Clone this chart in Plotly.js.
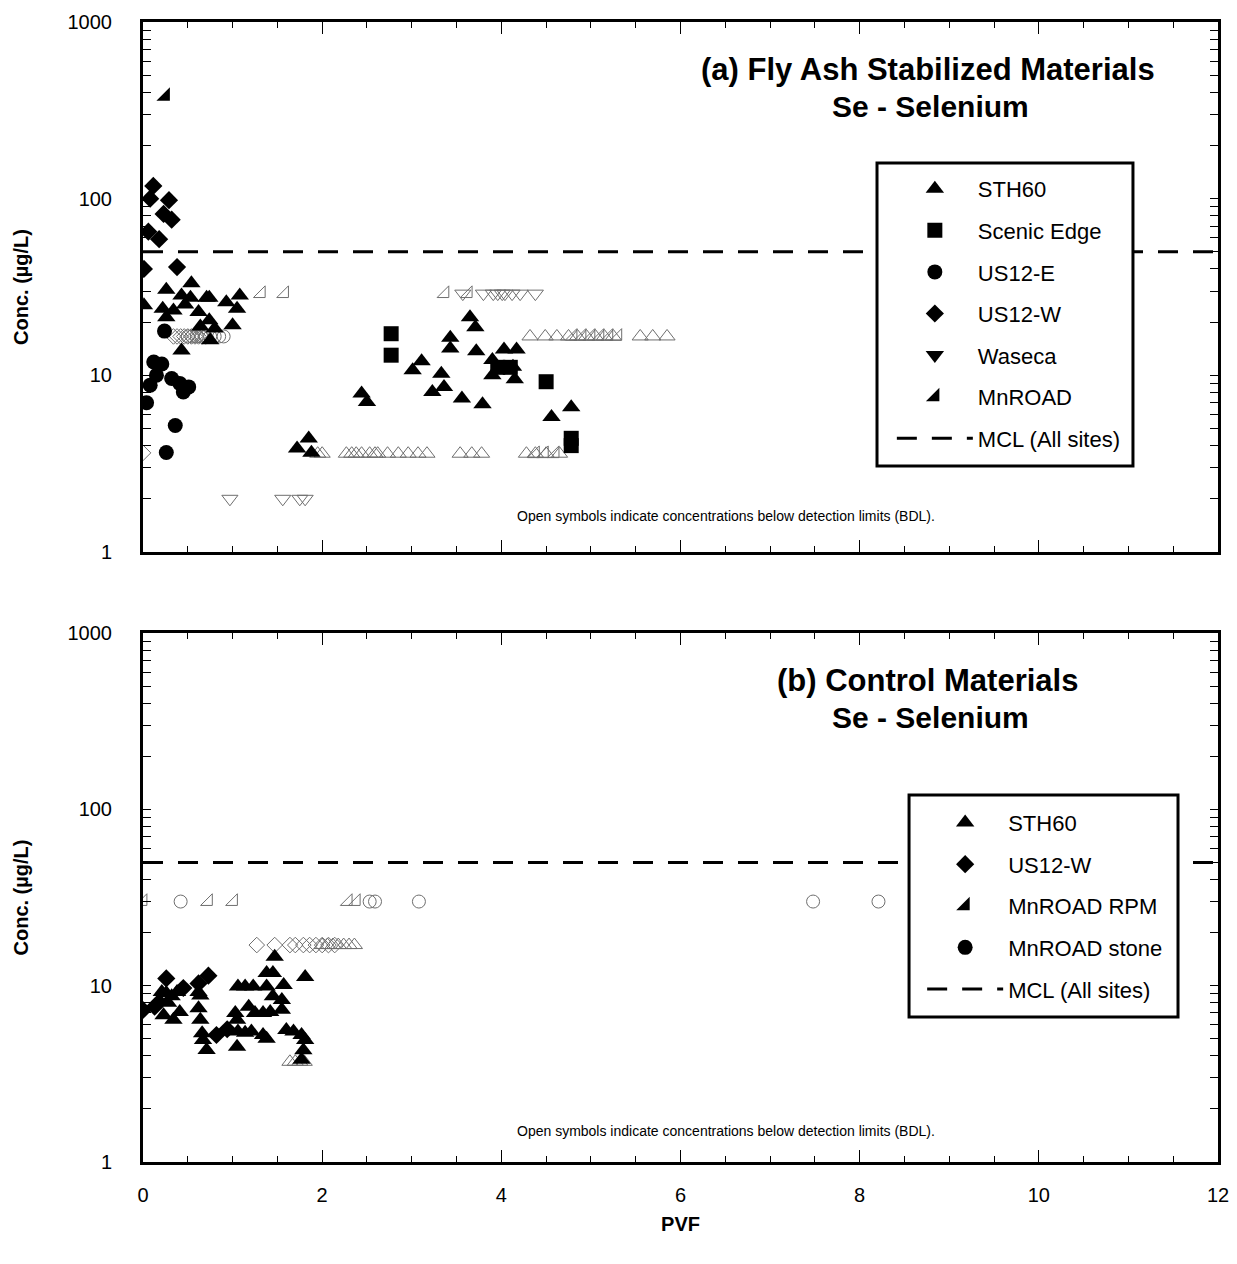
<!DOCTYPE html>
<html><head><meta charset="utf-8">
<script src="https://cdn.plot.ly/plotly-3.0.1.min.js"></script>
<style>body{margin:0;background:#fff}#g{width:1237px;height:1264px}</style>
</head><body><div id="g"></div>
<script>
// ---------- Panel (a) Fly Ash Stabilized Materials ----------
var a_sth60_x = [0.01,0.26,0.54,0.43,0.53,0.22,0.34,0.26,0.47,0.71,0.74,0.62,0.93,1.08,1.05,0.74,0.64,0.80,1.00,0.75,0.43,
  1.72,1.85,1.88,2.44,2.50,3.01,3.11,3.23,3.33,3.36,3.43,3.43,3.65,3.71,3.72,3.56,3.79,3.90,4.03,4.17,3.90,4.13,4.15,4.56,4.78];
var a_sth60_y = [24.9,30.5,33.2,28.3,27.5,23.8,23.3,21.3,25.2,27.5,27.5,22.8,25.9,28.3,23.8,20.5,18.9,18.4,19.2,15.8,13.8,
  3.85,4.39,3.64,7.9,7.07,10.7,12.0,8.05,10.2,8.6,16.3,14.2,21.3,18.7,13.7,7.4,6.86,12.2,14.0,14.0,10.0,11.2,9.5,5.8,6.6];
var a_sth60_bdl_x = [1.95,2.00,2.27,2.33,2.38,2.44,2.53,2.59,2.62,2.73,2.85,2.96,3.07,3.17,3.54,3.67,3.78,4.28,4.38,4.50,4.65,
  4.32,4.49,4.62,4.75,4.85,4.95,5.05,5.15,5.25,5.55,5.69,5.85];
var a_sth60_bdl_y = [3.6,3.6,3.6,3.6,3.6,3.6,3.6,3.6,3.6,3.6,3.6,3.6,3.6,3.6,3.6,3.6,3.6,3.6,3.6,3.6,3.6,
  16.6,16.6,16.6,16.6,16.6,16.6,16.6,16.6,16.6,16.6,16.6,16.6];
var a_scenic_x = [2.77,2.77,3.96,4.10,4.50,4.78,4.78];
var a_scenic_y = [17.2,13.0,11.1,11.1,9.2,4.4,4.0];
var a_us12e_x = [0.24,0.12,0.21,0.15,0.08,0.32,0.41,0.51,0.45,0.04,0.36,0.26];
var a_us12e_y = [17.8,11.9,11.6,10.0,8.8,9.6,9.0,8.6,8.05,7.0,5.2,3.66];
var a_us12e_bdl_x = [0.50,0.55,0.60,0.65,0.70,0.75,0.80,0.85,0.90];
var a_us12e_bdl_y = [16.6,16.6,16.6,16.6,16.6,16.6,16.6,16.6,16.6];
var a_us12w_x = [0.115,0.08,0.29,0.23,0.32,0.06,0.18,0.01,0.38];
var a_us12w_y = [118,100,98,82,76,65,59,40,41];
var a_us12w_bdl_x = [0.34,0.38,0.42,0.46,0.50,0.54,0.58,0.62,0.66,0.70,0.0];
var a_us12w_bdl_y = [16.6,16.6,16.6,16.6,16.6,16.6,16.6,16.6,16.6,16.6,3.64];
var a_waseca_x = [null];
var a_waseca_y = [null];
var a_waseca_bdl_x = [0.97,1.56,1.75,1.81,3.57,3.80,3.91,3.96,4.01,4.04,4.12,4.21,4.38];
var a_waseca_bdl_y = [2.0,2.0,2.0,2.0,29,29,29,29,29,29,29,29,29];
var a_mnroad_x = [0.25];
var a_mnroad_y = [380];
var a_mnroad_bdl_x = [1.32,1.58,3.37,3.63,4.38,4.48,4.60,4.80,4.90,5.00,5.10,5.20,5.30];
var a_mnroad_bdl_y = [29,29,29,29,3.6,3.6,3.6,16.6,16.6,16.6,16.6,16.6,16.6];

// ---------- Panel (b) Control Materials ----------
var b_sth60_x = [0.23,0.34,0.41,0.26,0.32,0.38,0.21,0.62,0.64,0.62,0.64,0.66,0.67,0.71,1.03,1.06,1.14,1.23,1.05,1.06,1.05,1.14,1.21,
  1.18,1.25,1.34,1.42,1.34,1.38,1.38,1.45,1.47,1.38,1.45,1.57,1.55,1.55,1.60,1.68,1.77,1.81,1.79,1.81,1.77,0.28,0.18];
var b_sth60_y = [6.8,6.4,7.1,9.1,8.7,9.2,9.2,9.2,8.8,7.45,6.4,5.37,4.92,4.32,7.0,9.9,9.9,9.9,6.4,5.5,4.5,5.4,5.5,
  7.6,7.0,7.0,7.1,5.25,5.0,11.8,11.8,14.6,9.9,8.7,10.1,8.3,7.3,5.6,5.5,5.25,4.92,4.3,11.2,3.8,8.0,8.3];
var b_sth60_bdl_x = [1.64,1.70,1.75,1.80,2.00,2.06,2.12,2.18,2.24,2.30,2.36];
var b_sth60_bdl_y = [3.7,3.7,3.7,3.7,17,17,17,17,17,17,17];
var b_us12w_x = [0.0,0.13,0.26,0.73,0.45,0.62,0.82,0.94];
var b_us12w_y = [7.28,7.6,11.0,11.4,9.7,10.3,5.25,5.66];
var b_us12w_bdl_x = [1.27,1.47,1.64,1.70,1.79,1.86,1.93,2.00,2.07,2.14];
var b_us12w_bdl_y = [17,17,17,17,17,17,17,17,17,17];
var b_rpm_x = [null];
var b_rpm_y = [null];
var b_rpm_bdl_x = [0.0,0.73,1.01,2.29,2.38];
var b_rpm_bdl_y = [30,30,30,30,30];
var b_stone_x = [null];
var b_stone_y = [null];
var b_stone_bdl_x = [0.42,2.53,2.59,3.08,7.48,8.21];
var b_stone_bdl_y = [30,30,30,30,30,30];

var mcl = 50;
var pvfRange = [0, 12];

var FONT = 'Arial, "Liberation Sans", sans-serif';
var GRAY = '#6e6e6e';

function filled(x, y, sym, size, name, xa, ya, leg) {
  return {x: x, y: y, type: 'scatter', mode: 'markers', name: name, xaxis: xa, yaxis: ya,
    legend: leg, legendgroup: leg + name, showlegend: true,
    marker: {symbol: sym, size: size, color: 'black', line: {width: 0}}};
}
function open(x, y, sym, size, xa, ya) {
  return {x: x, y: y, type: 'scatter', mode: 'markers', xaxis: xa, yaxis: ya, showlegend: false,
    marker: {symbol: sym + '-open', size: size, color: GRAY, line: {width: 1, color: GRAY}}};
}
function mclTrace(xa, ya, leg) {
  return {x: pvfRange, y: [mcl, mcl], type: 'scatter', mode: 'lines', name: 'MCL (All sites)',
    xaxis: xa, yaxis: ya, legend: leg, legendgroup: leg + 'mcl', showlegend: true,
    line: {color: 'black', width: 3, dash: '20px,15px'}};
}

var data = [
  open(a_sth60_bdl_x, a_sth60_bdl_y, 'triangle-up', 14, 'x', 'y'),
  open(a_us12e_bdl_x, a_us12e_bdl_y, 'circle', 13, 'x', 'y'),
  open(a_us12w_bdl_x, a_us12w_bdl_y, 'diamond', 12, 'x', 'y'),
  open(a_waseca_bdl_x, a_waseca_bdl_y, 'triangle-down', 14, 'x', 'y'),
  open(a_mnroad_bdl_x, a_mnroad_bdl_y, 'triangle-se', 13, 'x', 'y'),
  filled(a_sth60_x, a_sth60_y, 'triangle-up', 16, 'STH60', 'x', 'y', 'legend'),
  filled(a_scenic_x, a_scenic_y, 'square', 15, 'Scenic Edge', 'x', 'y', 'legend'),
  filled(a_us12e_x, a_us12e_y, 'circle', 15, 'US12-E', 'x', 'y', 'legend'),
  filled(a_us12w_x, a_us12w_y, 'diamond', 14, 'US12-W', 'x', 'y', 'legend'),
  filled(a_waseca_x, a_waseca_y, 'triangle-down', 16, 'Waseca', 'x', 'y', 'legend'),
  filled(a_mnroad_x, a_mnroad_y, 'triangle-se', 15, 'MnROAD', 'x', 'y', 'legend'),
  mclTrace('x', 'y', 'legend'),

  open(b_sth60_bdl_x, b_sth60_bdl_y, 'triangle-up', 14, 'x2', 'y2'),
  open(b_us12w_bdl_x, b_us12w_bdl_y, 'diamond', 12, 'x2', 'y2'),
  open(b_rpm_bdl_x, b_rpm_bdl_y, 'triangle-se', 13, 'x2', 'y2'),
  open(b_stone_bdl_x, b_stone_bdl_y, 'circle', 13, 'x2', 'y2'),
  filled(b_sth60_x, b_sth60_y, 'triangle-up', 16, 'STH60', 'x2', 'y2', 'legend2'),
  filled(b_us12w_x, b_us12w_y, 'diamond', 14, 'US12-W', 'x2', 'y2', 'legend2'),
  filled(b_rpm_x, b_rpm_y, 'triangle-se', 15, 'MnROAD RPM', 'x2', 'y2', 'legend2'),
  filled(b_stone_x, b_stone_y, 'circle', 15, 'MnROAD stone', 'x2', 'y2', 'legend2'),
  mclTrace('x2', 'y2', 'legend2')
];

var yTickVals = [], yTickText = [];
for (var e = 0; e < 3; e++) {
  for (var m = 1; m < 10; m++) {
    var v = m * Math.pow(10, e);
    yTickVals.push(v); yTickText.push(m === 1 ? String(v) : '');
  }
}
yTickVals.push(1000); yTickText.push('1000');

function xAxis(showLabels, anchor) {
  return {range: pvfRange, anchor: anchor, domain: [0, 1], showgrid: false, zeroline: false,
    showline: true, linewidth: 3, linecolor: 'black', mirror: 'allticks',
    ticks: 'inside', ticklen: 12, tickwidth: 1, tickcolor: 'black', dtick: 2, tick0: 0,
    showticklabels: showLabels, ticklabelstandoff: 13,
    tickfont: {family: FONT, size: 20, color: 'black'},
    minor: {dtick: 0.5, ticks: 'inside', ticklen: 6, tickwidth: 1, tickcolor: 'black', showgrid: false}};
}
function yAxis(domain, anchor) {
  return {type: 'log', range: [0, 3], domain: domain, anchor: anchor, showgrid: false, zeroline: false,
    showline: true, linewidth: 3, linecolor: 'black', mirror: 'allticks',
    ticks: 'inside', ticklen: 8, tickwidth: 1, tickcolor: 'black',
    tickmode: 'array', tickvals: yTickVals, ticktext: yTickText, ticklabelstandoff: 24,
    tickfont: {family: FONT, size: 20, color: 'black'},
    title: {text: '<b>Conc. (µg/L)</b>', font: {family: FONT, size: 20, color: 'black'}, standoff: 34}};
}

var xa = xAxis(false, 'y');
var xb = xAxis(true, 'y2');
xb.title = {text: '<b>PVF</b>', font: {family: FONT, size: 20, color: 'black'}, standoff: 12};

function ann(text, x, y, size) {
  return {text: text, x: x, y: y, xref: 'paper', yref: 'paper', showarrow: false,
    xanchor: 'center', yanchor: 'middle', font: {family: FONT, size: size, color: 'black'}};
}

var legendCommon = {xanchor: 'left', yanchor: 'top', bgcolor: 'rgba(0,0,0,0)', borderwidth: 0,
  font: {family: FONT, size: 22, color: 'black'}, tracegroupgap: 10, itemwidth: 76, traceorder: 'grouped'};
var leg1 = Object.assign({}, legendCommon, {x: 0.6966, y: 0.872});
var leg2 = Object.assign({}, legendCommon, {x: 0.7248, y: 0.316});

var layout = {
  width: 1237, height: 1264,
  margin: {l: 143, r: 19, t: 22, b: 102},
  paper_bgcolor: 'white', plot_bgcolor: 'white',
  showlegend: true,
  xaxis: xa, yaxis: yAxis([0.5351, 1], 'x'),
  xaxis2: xb, yaxis2: yAxis([0, 0.4640], 'x2'),
  legend: leg1, legend2: leg2,
  shapes: [
    {type: 'rect', xref: 'paper', yref: 'paper', x0: 0.6828, x1: 0.9209, y0: 0.6105, y1: 0.8763,
      fillcolor: 'white', line: {color: 'black', width: 3}, layer: 'above'},
    {type: 'rect', xref: 'paper', yref: 'paper', x0: 0.7126, x1: 0.9628, y0: 0.1272, y1: 0.3219,
      fillcolor: 'white', line: {color: 'black', width: 3}, layer: 'above'}
  ],
  annotations: [
    ann('<b>(a) Fly Ash Stabilized Materials</b>', 0.730, 0.958, 31),
    ann('<b>Se - Selenium</b>', 0.733, 0.926, 30),
    ann('Open symbols indicate concentrations below detection limits (BDL).', 0.542, 0.5667, 14),
    ann('<b>(b) Control Materials</b>', 0.730, 0.422, 31),
    ann('<b>Se - Selenium</b>', 0.733, 0.3895, 30),
    ann('Open symbols indicate concentrations below detection limits (BDL).', 0.542, 0.0272, 14)
  ]
};

Plotly.newPlot('g', data, layout, {displayModeBar: false, staticPlot: true});
</script>
</body></html>
